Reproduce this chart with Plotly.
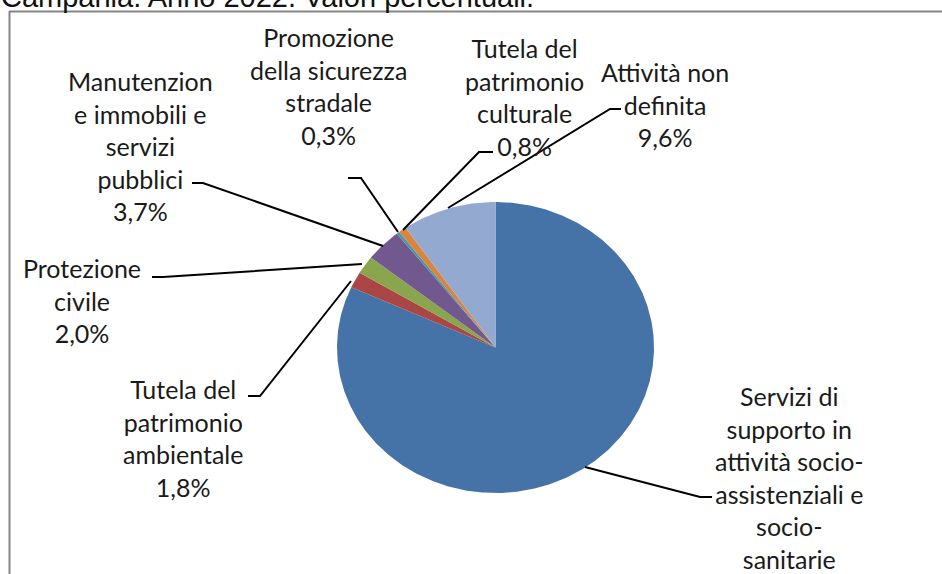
import math
import plotly.graph_objects as go

# ---- data ----
title_text = "Campania. Anno 2022. Valori percentuali."
categories = [
    "Servizi di supporto in attività socio-assistenziali e socio-sanitarie",
    "Tutela del patrimonio ambientale",
    "Protezione civile",
    "Manutenzione immobili e servizi pubblici",
    "Promozione della sicurezza stradale",
    "Tutela del patrimonio culturale",
    "Attività non definita",
]
wrapped_names = [
    "Servizi di<br>supporto in<br>attività socio-<br>assistenziali e<br>socio-<br>sanitarie",
    "Tutela del<br>patrimonio<br>ambientale",
    "Protezione<br>civile",
    "Manutenzion<br>e immobili e<br>servizi<br>pubblici",
    "Promozione<br>della sicurezza<br>stradale",
    "Tutela del<br>patrimonio<br>culturale",
    "Attività non<br>definita",
]
values = [81.8, 1.8, 2.0, 3.7, 0.3, 0.8, 9.6]
show_pct = [False, True, True, True, True, True, True]  # first label's % is cut off below the frame
colors = ["#4572A7", "#AA4643", "#89A54E", "#71588F", "#4198AF", "#DB843D", "#93A9CF"]

# ---- layout constants (pixels) ----
W, H = 942, 574
CX, CY, RX, RY = 495.5, 347.5, 158.5, 145.5
label_pos = [(789, 477), (183, 438), (82, 300), (140, 146), (328, 86), (524, 97), (665, 104)]
leaders = [
    "M 585,467 L 700,497 L 712,497",
    "M 248,396 L 260,396 L 351,281",
    "M 152,277 L 163,277 L 362,264",
    "M 192,183 L 203,183 L 383,246",
    "M 348,178 L 361,178 L 398,232",
    "M 493,152 L 479,152 L 403,230",
    "M 621,109 L 610,109 L 448,208",
]

fig = go.Figure()
total = sum(values)
start = 0.0
for name, v, c in zip(categories, values, colors):
    a0 = start
    a1 = start + 360.0 * v / total
    start = a1
    n = max(4, int((a1 - a0) * 2))
    xs, ys = [CX], [CY]
    for k in range(n + 1):
        t = math.radians(a0 + (a1 - a0) * k / n)
        xs.append(CX + RX * math.sin(t))
        ys.append(CY - RY * math.cos(t))
    xs.append(CX)
    ys.append(CY)
    fig.add_trace(go.Scatter(
        x=xs, y=ys, mode="lines", fill="toself", fillcolor=c,
        line=dict(width=0, color=c), name=name, hoverinfo="name",
        showlegend=False,
    ))

def pct(v):
    return f"{v:.1f}".replace(".", ",") + "%"

annotations = []
for txt, v, sp, (lx, ly) in zip(wrapped_names, values, show_pct, label_pos):
    annotations.append(dict(
        x=lx, y=ly, xref="x", yref="y", text=txt + ("<br>" + pct(v) if sp else ""),
        showarrow=False, xanchor="center", yanchor="middle", align="center",
        font=dict(family="Lato, sans-serif", size=25, color="#1a1a1a"),
    ))
annotations.append(dict(
    x=-1 / W, y=1 + 3.2 / H, xref="paper", yref="paper", text=title_text, showarrow=False,
    xanchor="left", yanchor="middle", align="left",
    font=dict(family="Liberation Sans, Arial, sans-serif", size=29, color="#111111"),
))

shapes = [dict(type="path", path=p, xref="x", yref="y",
               line=dict(color="black", width=2)) for p in leaders]
shapes.append(dict(type="line", xref="x", yref="y", x0=9.5, x1=9.5, y0=11, y1=H,
                   line=dict(color="#868686", width=2)))
shapes.append(dict(type="line", xref="x", yref="y", x0=9, x1=W, y0=11.5, y1=11.5,
                   line=dict(color="#868686", width=2)))

fig.update_layout(
    width=W, height=H, margin=dict(l=0, r=0, t=0, b=0),
    paper_bgcolor="white", plot_bgcolor="white",
    xaxis=dict(range=[0, W], visible=False, fixedrange=True),
    yaxis=dict(range=[H, 0], visible=False, fixedrange=True),
    annotations=annotations, shapes=shapes, showlegend=False,
)

fig.write_html("out.html", config={"displayModeBar": False},
               post_script="document.body.style.margin='0';document.body.style.overflow='hidden';")
